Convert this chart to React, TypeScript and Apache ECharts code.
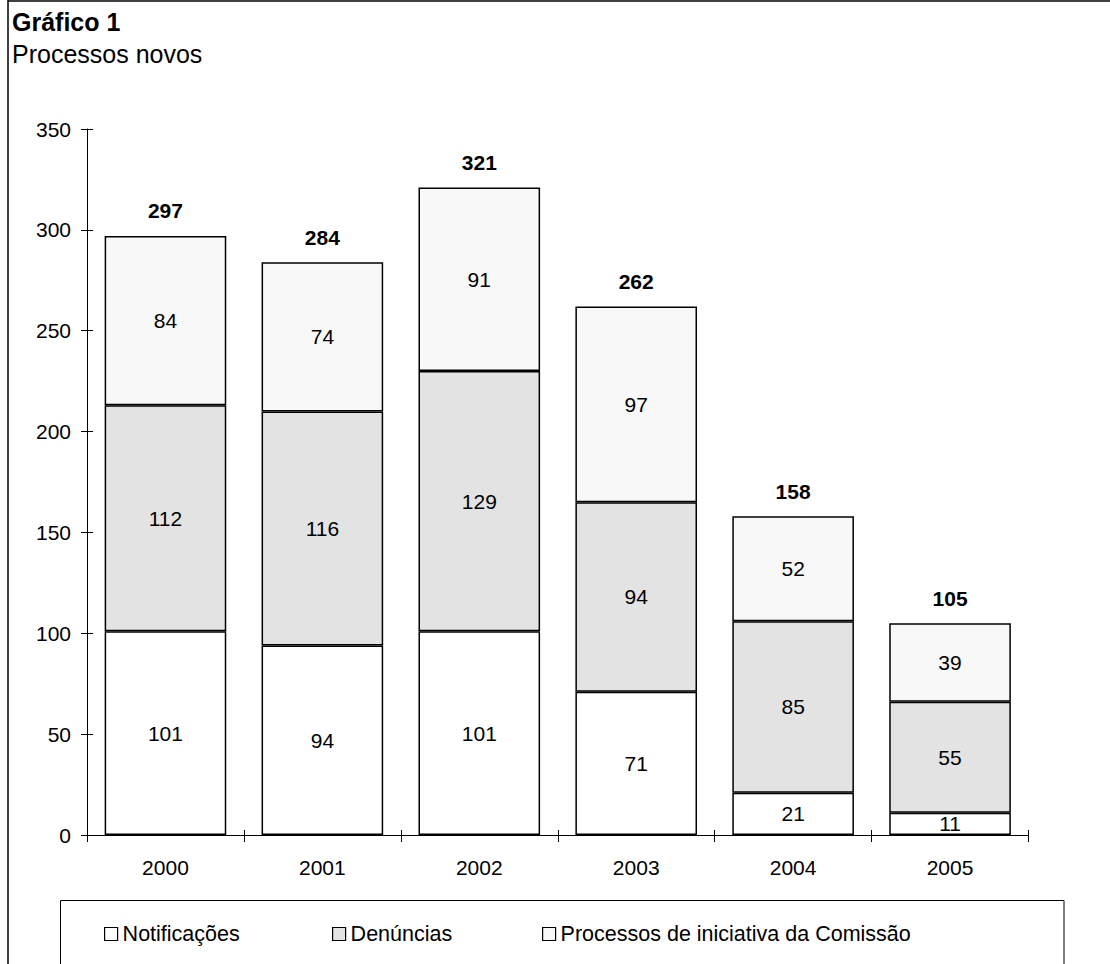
import React, { useEffect, useRef } from "react";
import * as echarts from "echarts";

// Novos processos por ano e por origem
const years = ["2000", "2001", "2002", "2003", "2004", "2005"];
const notificacoes = [101, 94, 101, 71, 21, 11];
const denuncias = [112, 116, 129, 94, 85, 55];
const iniciativa = [84, 74, 91, 97, 52, 39];
const seriesNames = ["Notificações", "Denúncias", "Processos de iniciativa da Comissão"];
const yTicks = { min: 0, max: 350, interval: 50 };

const FONT = "'Liberation Sans', Arial, sans-serif";

export default function App() {
  const ref = useRef<HTMLDivElement>(null);

  useEffect(() => {
    if (!ref.current) return;
    const chart = echarts.init(ref.current, null, { renderer: "svg" });

    // total de cada ano = soma das três origens
    const totals = years.map((_, i) => notificacoes[i] + denuncias[i] + iniciativa[i]);

    const barStyle = (color: string) => ({
      color,
      borderColor: "#000",
      borderWidth: 1.5,
    });
    const innerLabel = {
      show: true,
      position: "inside" as const,
      color: "#000",
      fontSize: 21,
      fontFamily: FONT,
      textBorderWidth: 0,
    };

    const legendBase = {
      orient: "horizontal" as const,
      top: 923,
      padding: 0,
      icon: "rect",
      itemWidth: 13,
      itemHeight: 13,
      itemGap: 0,
      textStyle: { color: "#000", fontSize: 21.5, fontFamily: FONT },
      itemStyle: { borderColor: "#000", borderWidth: 1.2 },
    };

    chart.setOption({
      animation: false,
      backgroundColor: "#fff",
      textStyle: { fontFamily: FONT },
      grid: { left: 87, top: 129, right: 81.5, bottom: 129, containLabel: false },
      legend: [
        { ...legendBase, left: 104, data: [seriesNames[0]] },
        { ...legendBase, left: 332, data: [seriesNames[1]] },
        { ...legendBase, left: 542, data: [seriesNames[2]] },
      ],
      xAxis: [
        {
          type: "category",
          data: years,
          position: "bottom",
          axisLine: { show: true, lineStyle: { color: "#000", width: 1 } },
          axisTick: { show: true, length: 7, lineStyle: { color: "#000", width: 1 } },
          axisLabel: { color: "#000", fontSize: 21, fontFamily: FONT, margin: 22 },
        },
        {
          type: "category",
          data: years,
          position: "bottom",
          axisLine: { show: false },
          axisTick: { show: true, inside: true, length: 5, lineStyle: { color: "#000", width: 1 } },
          axisLabel: { show: false },
        },
      ],
      yAxis: [
        {
          type: "value",
          ...yTicks,
          position: "left",
          axisLine: { show: true, lineStyle: { color: "#000", width: 1 } },
          axisTick: { show: true, length: 6, lineStyle: { color: "#000", width: 1 } },
          axisLabel: { color: "#000", fontSize: 21, fontFamily: FONT, margin: 16 },
          splitLine: { show: false },
        },
        {
          type: "value",
          ...yTicks,
          position: "left",
          axisLine: { show: false },
          axisTick: { show: true, inside: true, length: 6, lineStyle: { color: "#000", width: 1 } },
          axisLabel: { show: false },
          splitLine: { show: false },
        },
      ],
      series: [
        {
          name: seriesNames[0],
          type: "bar",
          stack: "total",
          barCategoryGap: "22.5%",
          data: notificacoes,
          itemStyle: barStyle("#ffffff"),
          label: innerLabel,
        },
        {
          name: seriesNames[1],
          type: "bar",
          stack: "total",
          barCategoryGap: "22.5%",
          data: denuncias,
          itemStyle: barStyle("#e3e3e3"),
          label: innerLabel,
        },
        {
          name: seriesNames[2],
          type: "bar",
          stack: "total",
          barCategoryGap: "22.5%",
          data: iniciativa,
          itemStyle: barStyle("#f8f8f8"),
          label: innerLabel,
        },
        {
          name: "Total",
          type: "scatter",
          data: totals,
          symbolSize: 1,
          itemStyle: { color: "rgba(0,0,0,0)" },
          silent: true,
          z: 5,
          label: {
            show: true,
            position: "top",
            distance: 14,
            color: "#000",
            fontSize: 21,
            fontWeight: "bold",
            fontFamily: FONT,
            textBorderWidth: 0,
            opacity: 1,
          },
        },
      ],
      graphic: [
        // moldura exterior
        { type: "line", shape: { x1: 8, y1: 0, x2: 8, y2: 964 }, style: { stroke: "#000", lineWidth: 1.5 } },
        { type: "line", shape: { x1: 8, y1: 1, x2: 1110, y2: 1 }, style: { stroke: "#000", lineWidth: 1.5 } },
        // caixa da legenda
        {
          type: "rect",
          shape: { x: 60.5, y: 900.5, width: 1003.5, height: 80 },
          style: { fill: "none", stroke: "#000", lineWidth: 1 },
          z: -1,
        },
        {
          type: "text",
          x: 12,
          y: 22,
          style: {
            text: "Gráfico 1",
            fontSize: 25,
            fontWeight: "bold",
            fontFamily: FONT,
            fill: "#000",
            verticalAlign: "middle",
          },
        },
        {
          type: "text",
          x: 12,
          y: 54,
          style: {
            text: "Processos novos",
            fontSize: 25,
            fontFamily: FONT,
            fill: "#000",
            verticalAlign: "middle",
          },
        },
      ],
    });

    return () => chart.dispose();
  }, []);

  return (
    <div
      ref={ref}
      style={{ position: "fixed", left: 0, top: 0, width: 1110, height: 964, background: "#fff" }}
    />
  );
}
